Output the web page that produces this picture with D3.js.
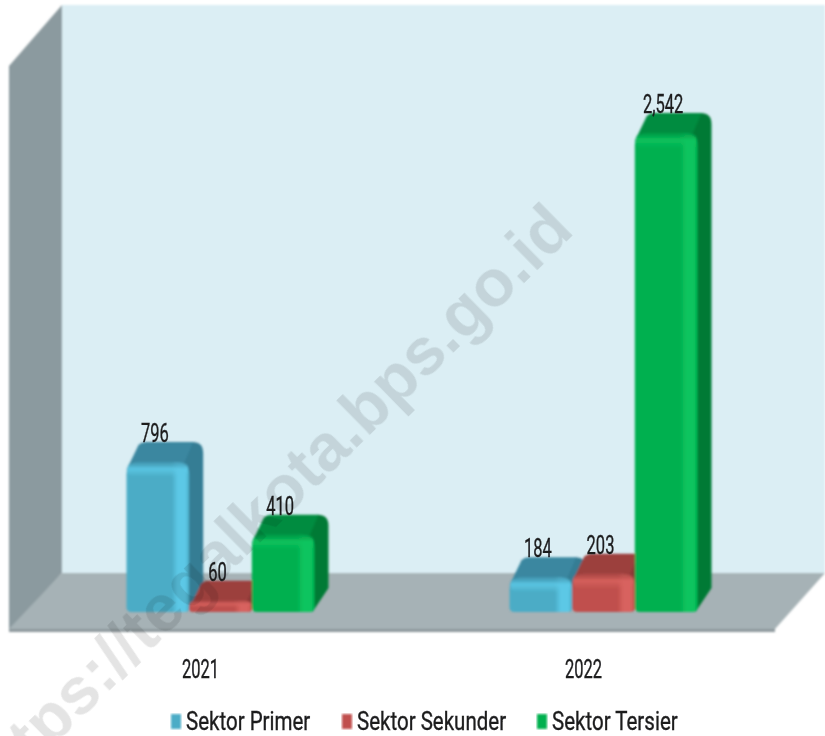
<!DOCTYPE html>
<html><head><meta charset="utf-8">
<script src="https://cdn.jsdelivr.net/npm/d3@7"></script>
<style>html,body{margin:0;padding:0;background:#fff}svg{display:block}</style>
</head><body><svg id="c" width="825" height="736"></svg>
<script>
const years = ["2021", "2022"];
const seriesNames = ["Sektor Primer", "Sektor Sekunder", "Sektor Tersier"];
const primer = [796, 184];
const sekunder = [60, 203];
const tersier = [410, 2542];
const seriesValues = [primer, sekunder, tersier];
const frontColors = ["#4bacc6", "#c0504d", "#00b050"];
const topColors = ["#3a87a0", "#9c403e", "#008c3f"];
const sideColors = ["#357d94", "#8a3836", "#007a36"];
const lightColors = ["#5cc8e6", "#d8625e", "#0cc45e"];
const watermark = "https://tegalkota.bps.go.id";

const FONT = "Roboto,sans-serif";
const svg = d3.select("#c");
const defs = svg.append("defs");
const blur = defs.append("filter").attr("id","soft").attr("x","-5%").attr("y","-5%").attr("width","110%").attr("height","110%");
blur.append("feGaussianBlur").attr("stdDeviation",0.9);
const tblur = defs.append("filter").attr("id","softText").attr("x","-5%").attr("y","-20%").attr("width","110%").attr("height","140%");
tblur.append("feGaussianBlur").attr("stdDeviation",0.5);

seriesNames.forEach((s,i)=>{
  const h = defs.append("linearGradient").attr("id","h"+i);
  [[0,frontColors[i]],[0.72,frontColors[i]],[0.82,lightColors[i]],[0.94,lightColors[i]],[1,frontColors[i]]]
    .forEach(([o,c])=>h.append("stop").attr("offset",o).attr("stop-color",c));
  const v = defs.append("linearGradient").attr("id","v"+i).attr("x1",0).attr("x2",0).attr("y1",0).attr("y2",1);
  v.append("stop").attr("offset",0).attr("stop-color",topColors[i]).attr("stop-opacity",0.55);
  v.append("stop").attr("offset",0.45).attr("stop-color",lightColors[i]).attr("stop-opacity",0.9);
  v.append("stop").attr("offset",1).attr("stop-color",lightColors[i]).attr("stop-opacity",0);
});

const x0 = d3.scaleBand().domain(years).range([9,775]);
const groupW = 188;
const x1 = d3.scaleBand().domain(seriesNames).range([0,groupW]);
const y = d3.scaleLinear().domain([0,2542]).range([612,133]);
const dx = 14, dy = 20;

const room = svg.append("g").attr("filter","url(#soft)");
const poly = (pts,fill)=>room.append("polygon").attr("points",pts.map(p=>p.join(",")).join(" ")).attr("fill",fill);
poly([[62,5],[825,5],[825,573],[62,573]],"#dbeef4");
poly([[9,66],[62,5],[62,573],[9,632]],"#8b9a9f");
poly([[62,573],[825,573],[775,629],[9,629]],"#a6b2b6");
poly([[9,629],[775,629],[775,632],[9,632]],"#8d989c");

const rows = [];
years.forEach((yr,yi)=>seriesNames.forEach((s,si)=>rows.push({yr,s,si,v:seriesValues[si][yi]})));
const barX = d=>x0(d.yr)+(x0.step()-groupW)/2+20+x1(d.s);
const barsG = svg.append("g").attr("filter","url(#soft)");
const bar = barsG.selectAll("g").data(rows).join("g").attr("transform",d=>`translate(${barX(d)},0)`);
const w = x1.bandwidth();
// side and top faces, rounded at the back corners
bar.append("path").attr("fill",d=>sideColors[d.si]).attr("d",d=>{
  const t=y(d.v), b=y(0), r=Math.min(11,(b-t+dy)/3), p=d3.path();
  p.moveTo(w-10,t+4); p.lineTo(w+dx-r,t-dy);
  p.quadraticCurveTo(w+dx,t-dy,w+dx,t-dy+r);
  p.lineTo(w+dx,b-dy-4); p.lineTo(w-2,b); p.closePath(); return p.toString();
});
bar.append("path").attr("fill",d=>topColors[d.si]).attr("d",d=>{
  const t=y(d.v), p=d3.path();
  p.moveTo(0,t+8); p.lineTo(dx-2,t-dy+3);
  p.quadraticCurveTo(dx+1,t-dy,dx+5,t-dy);
  p.lineTo(w+dx-10,t-dy); p.lineTo(w-8,t+8); p.closePath(); return p.toString();
});
// front face: larger radius on top, smaller at the base
bar.append("path").attr("fill",d=>`url(#h${d.si})`).attr("d",d=>{
  const t=y(d.v), b=y(0), h=b-t, rt=Math.min(13,h*0.6), rb=Math.min(5,h*0.3), p=d3.path();
  p.moveTo(0,t+rt); p.quadraticCurveTo(0,t,rt,t);
  p.lineTo(w-rt,t); p.quadraticCurveTo(w,t,w,t+rt);
  p.lineTo(w,b-rb); p.quadraticCurveTo(w,b,w-rb,b);
  p.lineTo(rb,b); p.quadraticCurveTo(0,b,0,b-rb); p.closePath(); return p.toString();
});
bar.append("rect").attr("x",1).attr("width",w-2).attr("y",d=>y(d.v))
  .attr("height",d=>Math.min(15,(y(0)-y(d.v))*0.6)).attr("rx",6).attr("fill",d=>`url(#v${d.si})`);

const textG = svg.append("g").attr("filter","url(#softText)").attr("font-family",FONT).attr("fill","#1d1d1f")
  .attr("stroke","#1d1d1f").attr("stroke-width",0.35);
const fmt = d3.format(",");
textG.selectAll("text.val").data(rows).join("text").attr("class","val")
  .attr("transform",d=>`translate(${barX(d)+w/2-3},${y(d.v)-dy}) scale(0.66,1)`)
  .attr("text-anchor","middle").attr("font-size",25).text(d=>fmt(d.v));
textG.selectAll("text.yr").data(years).join("text").attr("class","yr")
  .attr("transform",d=>`translate(${x0(d)+x0.step()/2},678) scale(0.66,1)`)
  .attr("text-anchor","middle").attr("font-size",25).text(d=>d);

const legX = [171,342,537];
const leg = svg.append("g").selectAll("g").data(seriesNames).join("g")
  .attr("transform",(d,i)=>`translate(${legX[i]},714)`);
leg.append("rect").attr("width",10).attr("height",15).attr("filter","url(#soft)").attr("fill",(d,i)=>frontColors[i]);
leg.append("text").attr("transform","translate(15,16) scale(0.82,1)").attr("font-family",FONT).attr("font-size",25).attr("fill","#1d1d1f")
  .attr("stroke","#1d1d1f").attr("stroke-width",0.35)
  .attr("filter","url(#softText)").text(d=>d);

svg.append("text").attr("transform","translate(-10,808) rotate(-44.5)")
  .attr("font-family","'Liberation Sans','DejaVu Sans',sans-serif").attr("font-weight","bold")
  .attr("font-size",66).attr("fill","#000").attr("fill-opacity",0.105).attr("filter","url(#softText)").text(watermark);
</script></body></html>
